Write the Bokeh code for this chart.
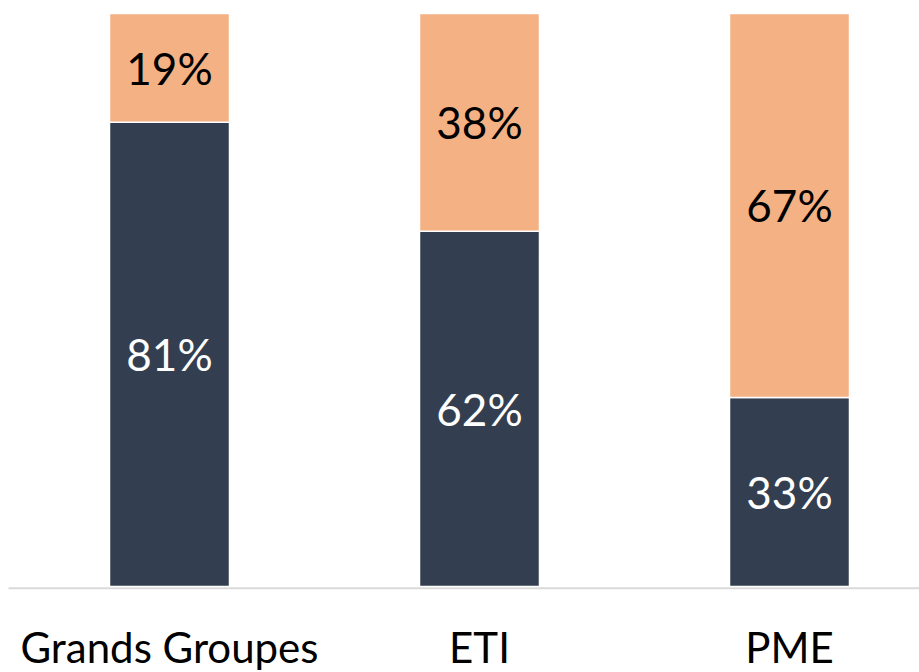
from bokeh.plotting import figure
from bokeh.models import ColumnDataSource
from bokeh.core.properties import value
from bokeh.embed import file_html
from bokeh.resources import INLINE

categories = ["Grands Groupes", "ETI", "PME"]
dark_vals = [81, 62, 33]
light_vals = [19, 38, 67]

DARK = "#333F50"
ORANGE = "#F4B183"
FONT = "Lato"

xs = list(range(len(categories)))

W, H = 919, 672
px_x = 310.0
x_start = -169 / px_x
x_end = x_start + W / px_x
px_y = 5.73
y_end = 100 + 13 / px_y
y_start = -(H - 586) / px_y
label_y = -(646 - 586) / px_y

src = ColumnDataSource(dict(
    x=xs,
    dark_top=dark_vals,
    light_bottom=dark_vals,
    light_top=[d + l for d, l in zip(dark_vals, light_vals)],
    dark_mid=[d / 2 for d in dark_vals],
    light_mid=[d + l / 2 for d, l in zip(dark_vals, light_vals)],
    dark_lbl=[f"{v}%" for v in dark_vals],
    light_lbl=[f"{v}%" for v in light_vals],
    cat=categories,
    cat_y=[label_y] * len(categories),
))

p = figure(width=W, height=H, output_backend="svg", toolbar_location=None,
           x_range=(x_start, x_end), y_range=(y_start, y_end),
           min_border=0, min_border_left=0, min_border_right=0,
           min_border_top=0, min_border_bottom=0)
p.axis.visible = False
p.grid.visible = False
p.outline_line_color = None
p.background_fill_color = "white"
p.border_fill_color = "white"

# baseline (category axis line)
p.segment(x0=[x_start + 8 / px_x], x1=[x_end], y0=[-0.3], y1=[-0.3],
          line_color="#D9D9D9", line_width=2)

bw = 120 / px_x
p.vbar(x="x", width=bw, bottom=0, top="dark_top", source=src,
       fill_color=DARK, line_color="white", line_width=1.5)
p.vbar(x="x", width=bw, bottom="light_bottom", top="light_top", source=src,
       fill_color=ORANGE, line_color="white", line_width=1.5)

p.text(x="x", y="dark_mid", text="dark_lbl", source=src, text_color="white",
       text_font=value(FONT), text_font_size="44px", text_align="center",
       text_baseline="middle")
p.text(x="x", y="light_mid", text="light_lbl", source=src, text_color="black",
       text_font=value(FONT), text_font_size="44px", text_align="center",
       text_baseline="middle")
p.text(x="x", y="cat_y", text="cat", source=src, text_color="black",
       text_font=value(FONT), text_font_size="42px", text_align="center",
       text_baseline="middle")

open("out.html", "w").write(file_html(p, INLINE))
